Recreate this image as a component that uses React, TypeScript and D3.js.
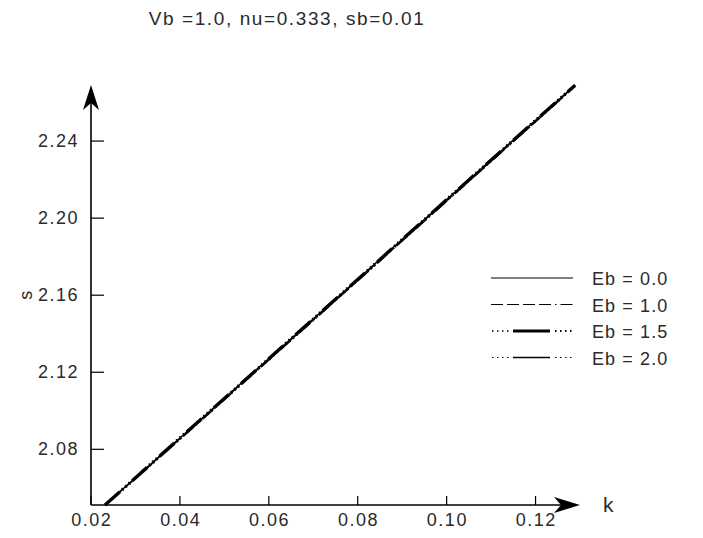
import React from "react";
import * as d3 from "d3";

const kValues = [0.02315, 0.04, 0.06, 0.08, 0.1, 0.12, 0.1289];
const sEb00 = [2.0511, 2.0859, 2.1271, 2.1683, 2.2096, 2.2508, 2.2691];
const sEb10 = [2.0511, 2.0856, 2.1267, 2.1679, 2.2092, 2.2504, 2.2688];
const sEb15 = [2.0511, 2.0858, 2.127, 2.1682, 2.2095, 2.2507, 2.269];
const sEb20 = [2.0511, 2.0851, 2.1262, 2.1674, 2.2087, 2.2499, 2.2684];
const xTicks = [0.02, 0.04, 0.06, 0.08, 0.1, 0.12];
const yTicks = [2.08, 2.12, 2.16, 2.2, 2.24];
const legendLabels = ["Eb = 0.0", "Eb = 1.0", "Eb = 1.5", "Eb = 2.0"];
const title = "Vb =1.0, nu=0.333, sb=0.01";

const W = 703;
const H = 538;

export default function App() {
  const x = d3.scaleLinear().domain([0.02, 0.13]).range([91, 580]);
  const y = d3.scaleLinear().domain([2.0511, 2.2691]).range([505, 85]);
  const x0 = x(0.02);
  const y0 = 505;
  const yTop = 85;
  const xRight = 580;

  const series = [sEb00, sEb10, sEb15, sEb20];
  const styles = [
    { w: 1.5, dash: undefined as string | undefined },
    { w: 1.5, dash: "9,4" },
    { w: 3.4, dash: "20,3,1.5,3,1.5,3,1.5,3" },
    { w: 1.3, dash: "14,3,1.5,3,1.5,3" },
  ];

  const line = d3
    .line<[number, number]>()
    .x((d) => x(d[0]))
    .y((d) => y(d[1]));

  const font = "Liberation Sans, Arial, sans-serif";
  const textColor = "#2a2a2a";

  return (
    <svg
      width={W}
      height={H}
      style={{ position: "absolute", left: 0, top: 0, background: "#fff" }}
      fontFamily={font}
    >
      <rect x={0} y={0} width={W} height={H} fill="#fff" />
      <text
        x={287}
        y={25}
        fontSize={19}
        letterSpacing={1.6}
        textAnchor="middle"
        fill={textColor}
      >
        {title}
      </text>

      {/* data lines */}
      {series.map((s, i) => (
        <path
          key={i}
          d={line(kValues.map((k, j) => [k, s[j]] as [number, number])) || ""}
          fill="none"
          stroke="#000"
          strokeWidth={styles[i].w}
          strokeDasharray={styles[i].dash}
        />
      ))}

      {/* axes */}
      <line x1={x0} y1={y0} x2={x0} y2={yTop + 10} stroke="#000" strokeWidth={1.6} />
      <line x1={x0} y1={y0} x2={xRight - 10} y2={y0} stroke="#000" strokeWidth={1.6} />
      <path
        d={`M${x0},${yTop} L${x0 - 8},${yTop + 25} L${x0},${yTop + 18} L${x0 + 8},${yTop + 25} Z`}
        fill="#000"
      />
      <path
        d={`M${xRight},${y0} L${xRight - 26},${y0 - 8} L${xRight - 19},${y0} L${xRight - 26},${y0 + 8} Z`}
        fill="#000"
      />

      {yTicks.map((t) => (
        <g key={t}>
          <line x1={x0} x2={x0 + 13} y1={y(t)} y2={y(t)} stroke="#000" strokeWidth={1.2} />
          <text
            x={x0 - 12}
            y={y(t) + 6}
            fontSize={18}
            letterSpacing={1.5}
            textAnchor="end"
            fill={textColor}
          >
            {t.toFixed(2)}
          </text>
        </g>
      ))}
      {xTicks.map((t) => (
        <g key={t}>
          <line x1={x(t)} x2={x(t)} y1={y0} y2={y0 - 9} stroke="#000" strokeWidth={1.2} />
          <text
            x={x(t) + 0.75}
            y={y0 + 21}
            fontSize={18}
            letterSpacing={1.5}
            textAnchor="middle"
            fill={textColor}
          >
            {t.toFixed(2)}
          </text>
        </g>
      ))}

      <text
        transform={`translate(32, ${y(2.16)}) rotate(-90)`}
        fontSize={18}
        textAnchor="middle"
        fill={textColor}
      >
        s
      </text>
      <text x={603} y={512} fontSize={21} fill={textColor}>
        k
      </text>

      {/* legend */}
      {legendLabels.map((lab, i) => {
        const ly = 278 + i * 26.5;
        return (
          <g key={lab}>
            {i === 0 && (
              <line x1={491} x2={573} y1={ly} y2={ly} stroke="#000" strokeWidth={1.2} />
            )}
            {i === 1 && (
              <line
                x1={491}
                x2={573}
                y1={ly}
                y2={ly}
                stroke="#000"
                strokeWidth={1.2}
                strokeDasharray="12,4,12,4,12,4,12,4,1.5,4"
              />
            )}
            {i === 2 && (
              <>
                <line x1={492} x2={510} y1={ly} y2={ly} stroke="#000" strokeWidth={1.5} strokeDasharray="1.5,3.5" />
                <line x1={513} x2={550} y1={ly} y2={ly} stroke="#000" strokeWidth={3.2} />
                <line x1={555} x2={573} y1={ly} y2={ly} stroke="#000" strokeWidth={1.8} strokeDasharray="1.5,3.5" />
              </>
            )}
            {i === 3 && (
              <>
                <line x1={492} x2={510} y1={ly} y2={ly} stroke="#000" strokeWidth={1} strokeDasharray="1.5,3.5" />
                <line x1={513} x2={550} y1={ly} y2={ly} stroke="#000" strokeWidth={1.3} />
                <line x1={555} x2={573} y1={ly} y2={ly} stroke="#000" strokeWidth={1} strokeDasharray="1.5,3.5" />
              </>
            )}
            <text
              x={592}
              y={ly + 7}
              fontSize={18}
              letterSpacing={1.1}
              fill={textColor}
            >
              {lab}
            </text>
          </g>
        );
      })}
    </svg>
  );
}
